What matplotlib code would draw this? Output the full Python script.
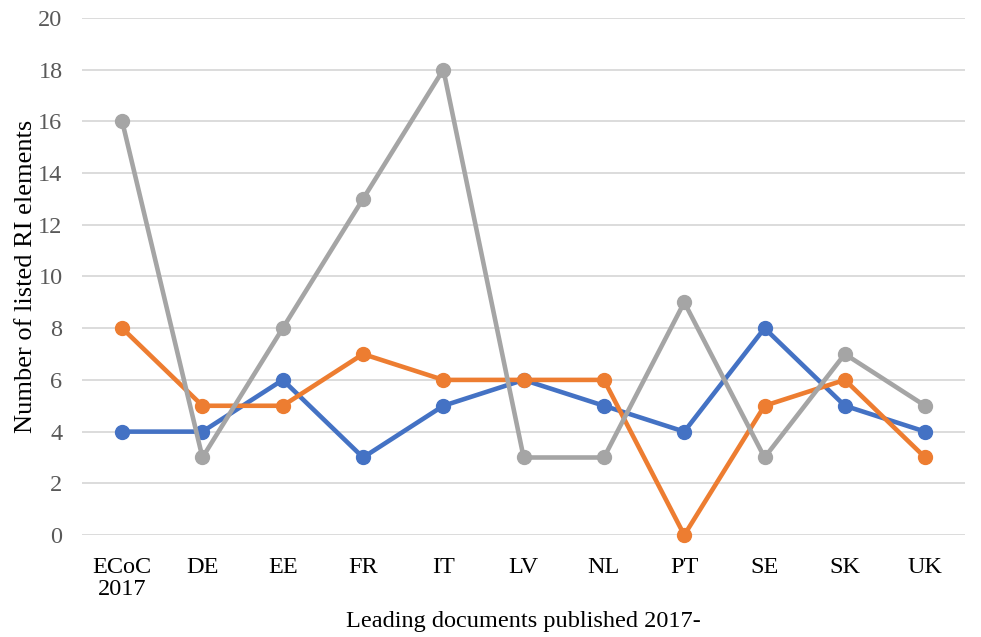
import matplotlib
matplotlib.use("Agg")
import matplotlib.pyplot as plt

# Data
categories = ["ECoC\n2017", "DE", "EE", "FR", "IT", "LV", "NL", "PT", "SE", "SK", "UK"]
series_blue = [4, 4, 6, 3, 5, 6, 5, 4, 8, 5, 4]
series_orange = [8, 5, 5, 7, 6, 6, 6, 0, 5, 6, 3]
series_gray = [16, 3, 8, 13, 18, 3, 3, 9, 3, 7, 5]

plt.rcParams["font.family"] = ["Liberation Serif", "DejaVu Serif"]

fig = plt.figure(figsize=(9.81, 6.37), dpi=100)
ax = fig.add_axes([0.0836, 0.160, 0.9004, 0.812])

x = range(len(categories))
for vals, col in [(series_blue, "#4472C4"), (series_orange, "#ED7D31"), (series_gray, "#A5A5A5")]:
    ax.plot(x, vals, color=col, linewidth=3.3, marker="o", markersize=10,
            solid_capstyle="round", solid_joinstyle="round", clip_on=False)

ax.set_xlim(-0.5, len(categories) - 0.5)
ax.set_ylim(0, 20)
ax.set_yticks(range(0, 21, 2))
ax.set_xticks(list(x))
ax.set_xticklabels(categories, linespacing=1.05)

ax.grid(axis="y", color="#D9D9D9", linewidth=1.3)
ax.set_axisbelow(True)
for s in ax.spines.values():
    s.set_visible(False)

ax.tick_params(axis="both", length=0, labelsize=17.5)
ax.tick_params(axis="y", labelcolor="#595959", pad=14)
ax.tick_params(axis="x", labelcolor="black", pad=16)

ax.set_ylabel("Number of listed RI elements", fontsize=19, labelpad=1)
ax.set_xlabel("Leading documents published 2017-", fontsize=17.5, labelpad=8)

fig.savefig("out.png", dpi=100)
